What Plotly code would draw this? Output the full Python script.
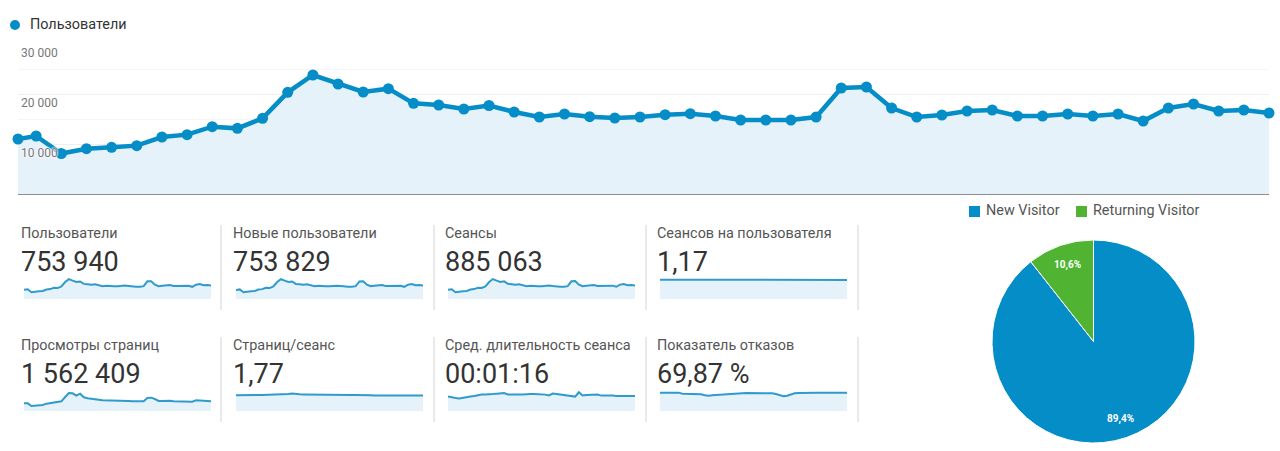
import plotly.graph_objects as go

W, H = 1280, 451
BLUE = "#058dc7"
GREEN = "#50b432"
FILL = "#e6f2f9"

# Main chart
DAY_POS = [0.28] + list(range(1, 51))
USERS = [11000, 11600, 8100, 9060, 9330, 9670, 11400, 11870, 13470, 13130, 15130, 20330, 23800,
         22000, 20400, 21070, 18130, 17800, 17000, 17700, 16400, 15400, 16000, 15470, 15200, 15400,
         15870, 16070, 15600, 14800, 14800, 14800, 15400, 21200, 21400, 17200, 15400, 15800, 16600,
         16800, 15600, 15600, 16000, 15600, 16000, 14600, 17200, 18000, 16600, 16800, 16200]
MAIN_TICKS = [10000, 20000, 30000]
MAIN_TICK_LABELS = ["10 000", "20 000", "30 000"]
MAIN_NAME = "Пользователи"

# Scorecards
NEW_USERS = [10900, 11500, 8100, 9050, 9300, 9650, 11350, 11850, 13450, 13100, 15100, 20300, 23750,
             22000, 20350, 21050, 18100, 17800, 17000, 17650, 16400, 15400, 16000, 15450, 15200, 15400,
             15850, 16050, 15600, 14800, 14800, 14750, 15400, 21150, 21400, 17200, 15400, 15800, 16600,
             16800, 15600, 15600, 16000, 15600, 16000, 14600, 17200, 18000, 16600, 16800, 16200]
SESSIONS = [12900, 13600, 9500, 10600, 10900, 11300, 13300, 13900, 15800, 15400, 17700, 23800, 27900,
            25700, 23900, 24700, 21300, 20800, 19900, 20700, 19200, 18000, 18700, 18100, 17800, 18000,
            18600, 18800, 18200, 17300, 17300, 17300, 18000, 24800, 25000, 20100, 18000, 18500, 19400,
            19700, 18200, 18200, 18700, 18200, 18700, 17100, 20100, 21100, 19400, 19600, 19000]
SESSIONS_PER_USER = [1.17, 1.17, 1.17, 1.17, 1.18, 1.18, 1.18, 1.18, 1.18, 1.18, 1.18, 1.18, 1.18,
                     1.18, 1.18, 1.18, 1.18, 1.18, 1.18, 1.18, 1.18, 1.18, 1.18, 1.18, 1.18, 1.18,
                     1.18, 1.18, 1.17, 1.17, 1.17, 1.16, 1.15, 1.15, 1.16, 1.17, 1.17, 1.17, 1.18,
                     1.17, 1.17, 1.17, 1.17, 1.17, 1.17, 1.17, 1.17, 1.17, 1.17, 1.16, 1.16]
PAGEVIEWS = [19200, 19200, 12500, 13300, 14200, 15000, 18300, 20000, 21700, 21700, 24200, 35000, 45000,
             44200, 38300, 43300, 34200, 31700, 30800, 30800, 28300, 26700, 26700, 25800, 25800, 25800,
             25800, 25000, 25000, 24200, 24200, 23300, 24200, 32500, 33300, 30000, 25000, 25000, 25800,
             25800, 24200, 24200, 24200, 24200, 24200, 23300, 26700, 26700, 25800, 25000, 24200]
PAGES_PER_SESSION = [1.78, 1.77, 1.76, 1.76, 1.77, 1.78, 1.80, 1.82, 1.83, 1.82, 1.86, 1.89, 1.93,
                     1.93, 1.93, 1.97, 1.90, 1.88, 1.87, 1.86, 1.84, 1.85, 1.85, 1.84, 1.83, 1.82,
                     1.82, 1.81, 1.80, 1.80, 1.79, 1.80, 1.81, 1.78, 1.77, 1.77, 1.77, 1.76, 1.76,
                     1.76, 1.75, 1.75, 1.75, 1.75, 1.75, 1.74, 1.75, 1.75, 1.74, 1.74, 1.74]
AVG_DURATION = [74, 69, 66, 64, 66, 69, 73, 76, 81, 84, 84, 84, 86, 88, 88, 91, 84, 83, 84, 84, 84, 86,
                86, 86, 86, 84, 83, 79, 88, 86, 83, 81, 79, 76, 73, 95, 79, 81, 81, 83, 83, 78, 79, 78,
                78, 76, 76, 76, 78, 78, 76]
BOUNCE = [71, 71, 71, 71, 71, 71, 67, 67, 67, 67, 67, 64.5, 60.6, 59, 60.6, 62, 63, 64.5, 66, 67, 68.4,
          68.4, 69, 69.7, 69.7, 69.7, 69.7, 69.7, 69.7, 69, 68.4, 66, 60.6, 57, 59, 64.5, 68.4, 69.7, 70.5,
          71, 71, 71, 71, 71, 70.5, 70.5, 70.5, 70.5, 71, 71, 71]

CARD_LABELS = ["Пользователи", "Новые пользователи", "Сеансы", "Сеансов на пользователя",
               "Просмотры страниц", "Страниц/сеанс", "Сред. длительность сеанса", "Показатель отказов"]
CARD_VALUES = ["753 940", "753 829", "885 063", "1,17", "1 562 409", "1,77", "00:01:16", "69,87 %"]
CARD_SERIES = [USERS, NEW_USERS, SESSIONS, SESSIONS_PER_USER, PAGEVIEWS, PAGES_PER_SESSION, AVG_DURATION, BOUNCE]
CARD_MAX = [36000, 36000, 42000, 1.82, 75000, 3.39, 152, 116]

# Pie
PIE_LABELS = ["New Visitor", "Returning Visitor"]
PIE_VALUES = [89.4, 10.6]
PIE_TEXT = ["89,4%", "10,6%"]

PAD = 2  # annotation box padding, in pixels


def fx(x):
    return x / W


def fy(y):
    return 1 - y / H


def text(s, x, y, size, color, anchor="left", bold=False):
    return dict(text=f"<b>{s}</b>" if bold else s, xref="paper", yref="paper",
                x=fx(x - PAD if anchor == "left" else x), y=fy(y),
                xanchor=anchor, yanchor="middle", showarrow=False,
                font=dict(family="Roboto", size=size, color=color))


def rect(x0, y0, x1, y1, color, kind="rect"):
    return dict(type=kind, xref="paper", yref="paper", x0=fx(x0), x1=fx(x1), y0=fy(y0), y1=fy(y1),
                fillcolor=color, line=dict(width=0))


fig = go.Figure()

# Main area chart
fig.add_trace(go.Scatter(
    x=DAY_POS, y=USERS, mode="lines+markers", name=MAIN_NAME, showlegend=False,
    line=dict(color=BLUE, width=4.5), marker=dict(color=BLUE, size=11),
    fill="tozeroy", fillcolor=FILL, cliponaxis=False, hoverinfo="skip",
))

layout = dict(
    width=W, height=H, margin=dict(l=0, r=0, t=0, b=0, pad=0),
    paper_bgcolor="white", plot_bgcolor="rgba(0,0,0,0)",
    font=dict(family="Roboto", color="#555555", size=14),
    separators=", ", hovermode=False, showlegend=False,
    xaxis=dict(domain=[fx(18), fx(1269)], range=[0.28, 50], visible=True, showgrid=False, showticklabels=False,
               ticks="", zeroline=False, showline=False),
    yaxis=dict(domain=[fy(194), fy(43.5)], range=[0, 30100], tickvals=MAIN_TICKS, showticklabels=False, ticks="",
               zeroline=True, zerolinecolor="#8f8f8f", zerolinewidth=2,
               showgrid=True, gridcolor="#efefef", gridwidth=1,
               minor=dict(dtick=5000, tick0=0, showgrid=True, gridcolor="#f5f5f5", gridwidth=1, ticks="")),
    shapes=[], annotations=[],
)

# Main axis labels sit below their gridlines, above the line, with a white halo
for tick, label in zip(MAIN_TICKS, MAIN_TICK_LABELS):
    layout["annotations"].append(dict(
        text=label, xref="paper", yref="y", x=fx(21 - PAD), y=tick, yshift=-9, xanchor="left", yanchor="middle",
        showarrow=False, font=dict(family="Roboto", size=12, color="#777777",
                                   shadow="0 0 2px white, 0 0 2px white, 0 0 2px white")))

# Legends
layout["shapes"].append(rect(10, 20, 20, 30, BLUE, "circle"))
layout["annotations"].append(text(MAIN_NAME, 30, 25, 14.4, "#333333"))
layout["shapes"].append(rect(969, 206, 980, 217, BLUE))
layout["annotations"].append(text(PIE_LABELS[0], 986, 211, 14.4, "#555555"))
layout["shapes"].append(rect(1076, 206, 1087, 217, GREEN))
layout["annotations"].append(text(PIE_LABELS[1], 1093, 211, 14.4, "#555555"))

# Scorecards
CARD_LEFT = [24, 236, 448, 660]
SEP_X = [221, 434, 646, 858]
ROWS = [dict(label=233, value=262, base=299, sep=(225, 310)),
        dict(label=345, value=374, base=411, sep=(337, 422))]
for i, series in enumerate(CARD_SERIES):
    row = ROWS[i // 4]
    left = CARD_LEFT[i % 4]
    n = i + 2
    fig.add_trace(go.Scatter(
        x=list(range(len(series))), y=series, mode="lines", xaxis=f"x{n}", yaxis=f"y{n}",
        line=dict(color="#2f9bcd", width=2), fill="tozeroy", fillcolor=FILL,
        showlegend=False, hoverinfo="skip",
    ))
    layout[f"xaxis{n}"] = dict(domain=[fx(left), fx(left + 187)], range=[0, len(series) - 1], visible=False)
    layout[f"yaxis{n}"] = dict(domain=[fy(row["base"]), fy(row["base"] - 30)], range=[0, CARD_MAX[i]], visible=False)
    layout["annotations"].append(text(CARD_LABELS[i], left - 3, row["label"], 14.4, "#555555"))
    layout["annotations"].append(text(CARD_VALUES[i], left - 3, row["value"], 27, "#333333"))
    layout["shapes"].append(dict(
        type="line", xref="paper", yref="paper", x0=fx(SEP_X[i % 4]), x1=fx(SEP_X[i % 4]),
        y0=fy(row["sep"][0]), y1=fy(row["sep"][1]), line=dict(color="#d4d4d4", width=1)))

# Pie
fig.add_trace(go.Pie(
    labels=PIE_LABELS, values=PIE_VALUES, sort=False, direction="clockwise", rotation=0,
    domain=dict(x=[fx(992), fx(1195)], y=[fy(443), fy(240)]),
    marker=dict(colors=[BLUE, GREEN], line=dict(color="white", width=1)),
    textinfo="none", hoverinfo="skip", showlegend=False,
))
layout["annotations"].append(text(PIE_TEXT[0], 1120, 419, 10, "white", "center", True))
layout["annotations"].append(text(PIE_TEXT[1], 1067, 265, 10, "white", "center", True))

fig.update_layout(**layout)
fig.write_html("out.html", config=dict(displayModeBar=False),
               post_script="document.body.style.margin='0';")
